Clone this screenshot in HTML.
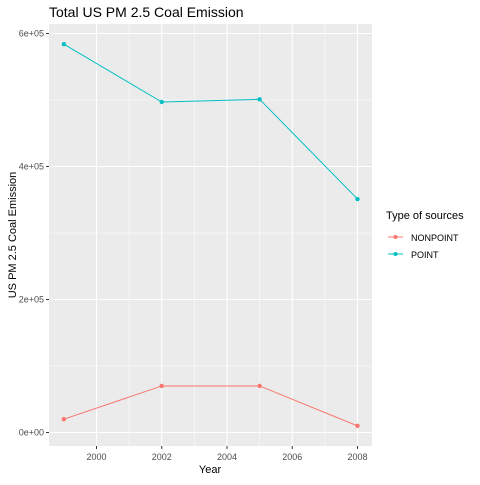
<!DOCTYPE html>
<html><head><meta charset="utf-8"><style>
body{margin:0;background:#fff;}
svg text{font-family:"Liberation Sans",Arial,sans-serif;}
</style></head><body>
<svg id="c" width="480" height="480" xmlns="http://www.w3.org/2000/svg">
<rect x="0" y="0" width="480" height="480" fill="#fff"/>
<text x="49" y="17" font-size="14" fill="#000">Total US PM 2.5 Coal Emission</text>
<rect x="49" y="24" width="323" height="422" fill="#ebebeb"/>
<g id="grid"></g>
<g id="series"></g>
<g id="axes"></g>
<text x="210" y="473" font-size="11" text-anchor="middle">Year</text>
<text transform="translate(16,235) rotate(-90)" font-size="11" text-anchor="middle">US PM 2.5 Coal Emission</text>
<g>
<text x="386" y="219" font-size="11">Type of sources</text>
<g>
<line x1="388" y1="237" x2="403" y2="237" stroke="#f8766d" stroke-width="1"/><circle cx="395.5" cy="237" r="2" fill="#f8766d"/>
<text x="411" y="241" font-size="9" fill="#000">NONPOINT</text></g>
<g>
<line x1="388" y1="254" x2="403" y2="254" stroke="#00bfc4" stroke-width="1"/><circle cx="395.5" cy="254" r="2" fill="#00bfc4"/>
<text x="411" y="258" font-size="9" fill="#000">POINT</text></g>
</g>
</svg>
<script>
const years=[1999,2002,2005,2008];
const seriesNames=["NONPOINT","POINT"];
const nonpoint=[20000,70000,70000,10000];
const point=[584000,497000,501000,351000];
const xTicks=[2000,2002,2004,2006,2008];
const yTicks=[0,200000,400000,600000];
const yTickLabels=["0e+00","2e+05","4e+05","6e+05"];
const NS="http://www.w3.org/2000/svg";
const X=v=>96.5+(v-2000)*32.625;
const Y=v=>432.5-v/600000*399;
function mk(tag,attrs,parent){const e=document.createElementNS(NS,tag);for(const k in attrs)e.setAttribute(k,attrs[k]);document.getElementById(parent).appendChild(e);return e;}
// minor grid
for(let i=0;i<xTicks.length-1;i++){const m=(xTicks[i]+xTicks[i+1])/2;const l=mk('line',{x1:X(m),x2:X(m),y1:24,y2:446,stroke:'#fff','stroke-width':0.5},'grid');

}
for(let i=0;i<yTicks.length-1;i++){const m=(yTicks[i]+yTicks[i+1])/2;const l=mk('line',{x1:49,x2:372,y1:Y(m),y2:Y(m),stroke:'#fff','stroke-width':0.5},'grid');

}
xTicks.forEach(t=>{const l=mk('line',{x1:X(t),x2:X(t),y1:24,y2:446,stroke:'#fff','stroke-width':1.1},'grid');


const k=mk('line',{x1:X(t),x2:X(t),y1:446,y2:449,stroke:'#333'},'axes');


const tx=mk('text',{x:X(t),y:460,'font-size':9,fill:'#4d4d4d','text-anchor':'middle'},'axes');tx.textContent=t;

});
yTicks.forEach((t,i)=>{const l=mk('line',{x1:49,x2:372,y1:Y(t),y2:Y(t),stroke:'#fff','stroke-width':1.1},'grid');


const k=mk('line',{x1:46,x2:49,y1:Y(t),y2:Y(t),stroke:'#333'},'axes');


const tx=mk('text',{x:44,y:Y(t)+3,'font-size':9,fill:'#4d4d4d','text-anchor':'end'},'axes');tx.textContent=yTickLabels[i];

});
[[nonpoint,'#f8766d','nonpoint'],[point,'#00bfc4','point']].forEach(([vals,col,nm])=>{
const pl=mk('polyline',{points:vals.map((v,i)=>X(years[i])+','+Y(v)).join(' '),fill:'none',stroke:col,'stroke-width':1},'series');


vals.forEach((v,i)=>{const c=mk('circle',{cx:X(years[i]),cy:Y(v),r:2.2,fill:col},'series');

});});
</script>
</body></html>
